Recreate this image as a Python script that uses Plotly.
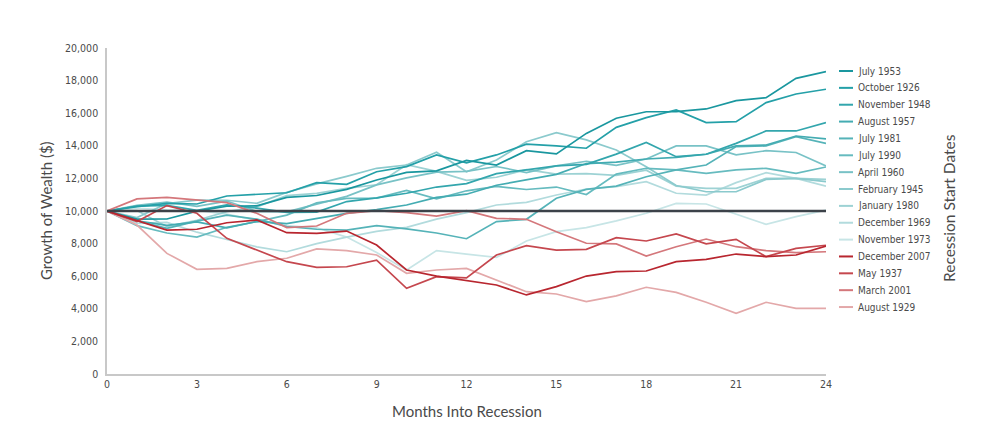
import plotly.graph_objects as go

# ---------------- data ----------------
months = list(range(25))
x_ticks = [0, 3, 6, 9, 12, 15, 18, 21, 24]
y_ticks = [0, 2000, 4000, 6000, 8000, 10000, 12000, 14000, 16000, 18000, 20000]
start_value = 10000

july_1953 = [10000, 9500, 9510, 9990, 10290, 10320, 10840, 10950, 11330, 11900, 12370, 12460, 13100,
             12820, 13700, 13500, 14760, 15690, 16090, 16100, 16260, 16770, 16950, 18140, 18550]
october_1926 = [10000, 10270, 10470, 10430, 10920, 11040, 11120, 11740, 11640, 12410, 12720, 13440, 12950,
                13440, 14100, 14000, 13850, 15130, 15730, 16200, 15420, 15480, 16650, 17180, 17470]
november_1948 = [10000, 10300, 10340, 10040, 10370, 10180, 9920, 9930, 10580, 10810, 11090, 11470, 11680,
                 12290, 12520, 12770, 12860, 13490, 14210, 13330, 13480, 14150, 14910, 14910, 15420]
august_1957 = [10000, 9400, 9120, 9330, 8960, 9360, 9230, 9530, 9850, 10080, 10370, 10840, 11030,
               11580, 11910, 12250, 12910, 13000, 13190, 13290, 13480, 13990, 14050, 14600, 14420]
july_1981 = [10000, 9400, 8930, 9380, 9750, 9500, 9050, 8880, 8830, 9100, 8900, 8650, 8300,
             9350, 9490, 10780, 11330, 11530, 12100, 12520, 12820, 13950, 13990, 14560, 14150]
july_1990 = [10000, 9100, 8650, 8400, 9000, 9350, 9750, 10500, 10770, 10790, 11260, 10740, 11240,
             11510, 11320, 11470, 11010, 12260, 12620, 12520, 12310, 12520, 12620, 12310, 12700]
april_1960 = [10000, 10340, 10550, 10280, 10610, 9970, 9950, 10410, 10900, 11600, 12030, 12380, 12430,
              12730, 12360, 12770, 13050, 12800, 13190, 13990, 13990, 13440, 13700, 13590, 12760]
february_1945 = [10000, 9600, 10460, 10670, 10660, 10470, 11140, 11660, 12120, 12620, 12820, 13600, 12410,
                 13130, 14250, 14810, 14360, 13740, 12720, 11560, 11180, 11180, 11940, 12000, 11800]
january_1980 = [10000, 10030, 9040, 9430, 9960, 10250, 10940, 11080, 11390, 11610, 12840, 12430, 11880,
                12070, 12540, 12260, 12290, 12190, 12500, 11530, 11390, 11390, 12000, 12000, 11940]
december_1969 = [10000, 9240, 9300, 8700, 8250, 7800, 7500, 8000, 8400, 8750, 9000, 9500, 9900,
                 10370, 10530, 10980, 11350, 11490, 11800, 11090, 10980, 11740, 12350, 12000, 11530]
november_1973 = [10000, 10170, 10070, 10030, 9810, 9430, 9110, 8970, 8400, 7450, 6380, 7570, 7350,
                 7150, 8160, 8730, 8980, 9390, 9860, 10470, 10430, 9820, 9180, 9650, 10060]
december_2007 = [10000, 9400, 8830, 8880, 9280, 9450, 8670, 8630, 8770, 7910, 6380, 6010, 5730,
                 5460, 4850, 5360, 6010, 6280, 6320, 6890, 7030, 7360, 7200, 7300, 7850]
may_1937 = [10000, 9350, 10330, 9860, 8320, 7610, 6890, 6540, 6580, 6990, 5260, 5970, 5900,
            7300, 7870, 7600, 7650, 8360, 8160, 8590, 7980, 8260, 7200, 7710, 7900]
march_2001 = [10000, 10740, 10840, 10670, 10510, 9860, 8980, 9080, 9860, 10020, 9900, 9690, 10020,
              9550, 9490, 8730, 8020, 7980, 7240, 7810, 8280, 7810, 7570, 7450, 7500]
august_1929 = [10000, 9140, 7400, 6420, 6480, 6890, 7100, 7670, 7570, 7300, 6180, 6380, 6480,
               5770, 5050, 4910, 4440, 4790, 5320, 5010, 4400, 3720, 4400, 4030, 4030]

series_names = ["July 1953", "October 1926", "November 1948", "August 1957", "July 1981",
                "July 1990", "April 1960", "February 1945", "January 1980", "December 1969",
                "November 1973", "December 2007", "May 1937", "March 2001", "August 1929"]
series_values = [july_1953, october_1926, november_1948, august_1957, july_1981,
                 july_1990, april_1960, february_1945, january_1980, december_1969,
                 november_1973, december_2007, may_1937, march_2001, august_1929]
series_colors = ["#1a979f", "#24a0a8", "#33a6ad", "#44acb2", "#55b3b8",
                 "#66bbbf", "#78c2c6", "#8bcacd", "#9dd2d4", "#b2dbdd",
                 "#c7e5e6", "#b8262f", "#c5474e", "#d4777b", "#e3a8a9"]

# ---------------- figure ----------------
W, H = 1000, 443
OFF = 8  # page body margin
L, T = 107 - OFF, 48 - OFF
pw, ph = 719, 326
R, B = W - L - pw, H - T - ph

narrow = "DejaVu Sans Condensed, Liberation Sans Narrow, sans-serif"
regular = "Lato, Noto Sans, sans-serif"

fig = go.Figure()
order = list(range(10, -1, -1)) + list(range(14, 10, -1))
for i in order:
    fig.add_trace(go.Scatter(x=months, y=series_values[i], mode="lines", name=series_names[i],
                             line=dict(color=series_colors[i], width=1.7), showlegend=False))

fig.add_shape(type="line", xref="x", yref="y", x0=months[0], x1=months[-1],
              y0=start_value, y1=start_value, line=dict(color="#3c4249", width=2.6), layer="above")

def px2x(px):
    return (px - OFF - L) / pw

def py2y(py):
    return (H - B - (py - OFF)) / ph

row0, step = 71.0, 16.86
for k, name in enumerate(series_names):
    py = row0 + k * step
    fig.add_shape(type="line", xref="paper", yref="paper", x0=px2x(839), x1=px2x(853),
                  y0=py2y(py), y1=py2y(py), line=dict(color=series_colors[k], width=2))
    fig.add_annotation(text=name, xref="paper", yref="paper", x=px2x(856), y=py2y(py),
                       xanchor="left", yanchor="middle", showarrow=False,
                       font=dict(family=narrow, size=10, color="#4a4a4a"))

fig.add_annotation(text="Recession Start Dates", xref="paper", yref="paper",
                   x=px2x(949), y=py2y(208), textangle=-90, showarrow=False,
                   xanchor="center", yanchor="middle",
                   font=dict(family=regular, size=15.5, color="#4a4a4a"))
fig.add_annotation(text="Growth of Wealth ($)", xref="paper", yref="paper",
                   x=px2x(46), y=py2y(211), textangle=-90, showarrow=False,
                   xanchor="center", yanchor="middle",
                   font=dict(family=regular, size=15, color="#4a4a4a"))
fig.add_annotation(text="Months Into Recession", xref="paper", yref="paper",
                   x=px2x(467), y=py2y(411), showarrow=False,
                   xanchor="center", yanchor="middle",
                   font=dict(family=regular, size=15, color="#4a4a4a"))

fig.update_layout(
    width=W, height=H,
    margin=dict(l=L, r=R, t=T, b=B),
    paper_bgcolor="white", plot_bgcolor="white",
    showlegend=False,
    xaxis=dict(range=[months[0], months[-1]], tickvals=x_ticks, ticktext=[str(v) for v in x_ticks],
               showgrid=False, zeroline=False, showline=True, linecolor="#c8c8c8", linewidth=1.5,
               ticks="", tickfont=dict(family=narrow, size=10.5, color="#4a4a4a")),
    yaxis=dict(range=[0, 20000], tickvals=y_ticks, ticktext=[f"{v:,}" for v in y_ticks],
               showgrid=False, zeroline=False, showline=True, linecolor="#c8c8c8", linewidth=1.5,
               ticks="", ticklabelstandoff=5,
               tickfont=dict(family=narrow, size=10.5, color="#4a4a4a")),
)

fig.write_html("out.html")
